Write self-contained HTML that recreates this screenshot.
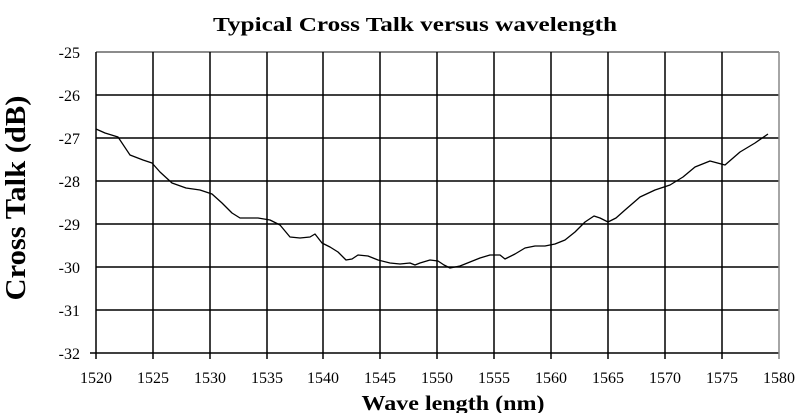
<!DOCTYPE html>
<html><head><style>body{margin:0;background:#fff}</style></head><body>
<svg width="804" height="413" xmlns="http://www.w3.org/2000/svg" font-family="Liberation Serif, serif">
<text x="415" y="31" text-anchor="middle" font-size="20" font-weight="bold" textLength="404" lengthAdjust="spacingAndGlyphs">Typical Cross Talk  versus   wavelength</text>
<g stroke="#000" stroke-width="1.5">
<line x1="96" y1="52" x2="779" y2="52" stroke="#666"/>
<line x1="96" y1="95" x2="779" y2="95"/>
<line x1="96" y1="138" x2="779" y2="138"/>
<line x1="96" y1="181" x2="779" y2="181"/>
<line x1="96" y1="224" x2="779" y2="224"/>
<line x1="96" y1="267" x2="779" y2="267"/>
<line x1="96" y1="310" x2="779" y2="310"/>
<line x1="90" y1="353" x2="779" y2="353"/>
<line x1="96" y1="52" x2="96" y2="359"/>
<line x1="153" y1="52" x2="153" y2="359"/>
<line x1="210" y1="52" x2="210" y2="359"/>
<line x1="267" y1="52" x2="267" y2="359"/>
<line x1="323" y1="52" x2="323" y2="359"/>
<line x1="380" y1="52" x2="380" y2="359"/>
<line x1="437" y1="52" x2="437" y2="359"/>
<line x1="494" y1="52" x2="494" y2="359"/>
<line x1="551" y1="52" x2="551" y2="359"/>
<line x1="608" y1="52" x2="608" y2="359"/>
<line x1="665" y1="52" x2="665" y2="359"/>
<line x1="722" y1="52" x2="722" y2="359"/>
<line x1="779" y1="52" x2="779" y2="359" stroke="#888"/>
</g>
<g font-size="16" text-anchor="end">
<text x="80" y="58">-25</text><text x="80" y="101">-26</text><text x="80" y="144">-27</text><text x="80" y="187">-28</text><text x="80" y="230">-29</text><text x="80" y="273">-30</text><text x="80" y="316">-31</text><text x="80" y="359">-32</text>
</g>
<g font-size="16" text-anchor="middle">
<text x="96" y="383">1520</text><text x="153" y="383">1525</text><text x="210" y="383">1530</text><text x="267" y="383">1535</text><text x="323" y="383">1540</text><text x="380" y="383">1545</text><text x="437" y="383">1550</text><text x="494" y="383">1555</text><text x="551" y="383">1560</text><text x="608" y="383">1565</text><text x="665" y="383">1570</text><text x="722" y="383">1575</text><text x="779" y="383">1580</text>
</g>
<text x="453" y="410" text-anchor="middle" font-size="21" font-weight="bold" textLength="183" lengthAdjust="spacingAndGlyphs">Wave length (nm)</text>
<text transform="translate(25,198) rotate(-90)" text-anchor="middle" font-size="28" font-weight="bold" textLength="205" lengthAdjust="spacingAndGlyphs">Cross Talk (dB)</text>
<polyline fill="none" stroke="#000" stroke-width="1.3" stroke-linejoin="round" points="96,129 105,133 118,137 130,155 143,160 152,163 160,172 172,183 186,188 200,190 212,194 222,203 232,213 240,218 246,218 258,218 270,220 280,225 290,237 300,238 310,237 315,234 322,243 330,247 338,252 346,260 352,259 358,255 368,256 378,260 390,263 400,264 410,263 415,265 420,263 430,260 438,261 444,265 450,268 460,266 470,262 480,258 490,255 500,255 505,259 515,254 525,248 535,246 545,246 555,244 565,240 575,232 585,222 594,216 600,218 608,222 616,218 625,210 640,197 655,190 670,185 683,177 695,167 710,161 725,165 740,152 755,143 768,134"/>
</svg>
</body></html>
